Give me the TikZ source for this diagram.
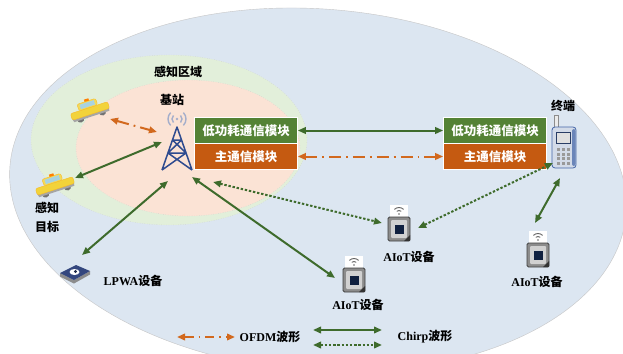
\documentclass[tikz,border=0pt]{standalone}
\usepackage{fontspec}
\setmainfont{Liberation Serif}
\newfontfamily\cjk{Noto Sans CJK SC}
\usepackage{tikz}
\usetikzlibrary{arrows.meta}
\definecolor{skyfill}{HTML}{DCE6F1}
\definecolor{zonefill}{HTML}{E2EFDA}
\definecolor{cellfill}{HTML}{FBE3D5}
\definecolor{lpgreen}{HTML}{548235}
\definecolor{mainorange}{HTML}{C55A11}
\definecolor{arrgreen}{HTML}{3E6B2C}
\definecolor{arrorange}{HTML}{D2691E}
\definecolor{towerblue}{HTML}{2E4B8F}
\definecolor{wavegray}{HTML}{A4AECB}
\definecolor{taxi}{HTML}{F2D33A}
\definecolor{glass}{HTML}{A9D3E0}
\definecolor{phonebody}{HTML}{D3DBE8}
\definecolor{phoneblue}{HTML}{4566A8}
\definecolor{chipnavy}{HTML}{10203F}
\definecolor{tilenavy}{HTML}{34477E}
\newcommand{\zh}[1]{{\cjk #1}}

\begin{document}
\begin{tikzpicture}[x=1pt, y=-1pt,
    lbl/.style={inner sep=0.5pt, font=\fontsize{12}{13}\selectfont\bfseries},
    modbox/.style={draw=white, line width=0.6pt, minimum width=103, minimum height=25.5, inner sep=0pt, text=white, font=\fontsize{12.5}{14}\selectfont\bfseries\cjk},
    wtip/.tip={Triangle[length=8pt, width=6.5pt]},
    chirp/.style={draw=arrgreen, line width=2pt, wtip-wtip},
    chirpdot/.style={chirp, dash pattern=on 2.4pt off 1.8pt},
    ofdm/.style={draw=arrorange, line width=2pt, dash pattern=on 12pt off 5pt on 1.8pt off 5pt, wtip-wtip}]
            \clip (0,0) rectangle (623,353);
            \fill[white] (0,0) rectangle (623,353);
            \draw[fill=skyfill, draw=gray!45, rotate around={-4.4:(318,190)}] (318,190) ellipse [x radius=309, y radius=181];
            \draw[fill=zonefill, draw=gray!40, dotted] (169,140) ellipse [x radius=138, y radius=85];
            \draw[fill=cellfill, draw=gray!40, dotted] (188,148) ellipse [x radius=112, y radius=68];

            \node[lbl] (zone) at (178,72) {\zh{感知区域}};
            \node[lbl] (bslbl) at (172,100) {\zh{基站}};
            \node[lbl] (termlbl) at (563,106) {\zh{终端}};
            \node[lbl, align=center] (tgtlbl) at (47,217) {\zh{感知}\\[6pt]\zh{目标}};
            \node[lbl] (lpwalbl) at (133,281) {LPWA\zh{设备}};
            \node[lbl] (iotAlbl) at (409,257) {AIoT\zh{设备}};
            \node[lbl] (iotBlbl) at (358,305) {AIoT\zh{设备}};
            \node[lbl] (iotClbl) at (537,282) {AIoT\zh{设备}};

            \node[modbox, fill=lpgreen] (lowA) at (246,130.5) {低功耗通信模块};
            \node[modbox, fill=mainorange] (mainA) at (246,156.5) {主通信模块};
            \node[modbox, fill=lpgreen] (lowB) at (495,130.5) {低功耗通信模块};
            \node[modbox, fill=mainorange] (mainB) at (495,156.5) {主通信模块};

            \draw[towerblue, line width=1.5pt, line join=round]
                (162,170) -- (177,127) -- (192,170)
                (172.5,140) -- (181.5,140)
                (168,153) -- (186,153)
                (172.5,140) -- (186,153) (181.5,140) -- (168,153)
                (168,153) -- (192,170) (186,153) -- (162,170);
            \foreach \r in {5,9} {
                \draw[wavegray, line width=1.4pt] (177,119) ++(135:\r) arc[start angle=135, end angle=225, radius=\r];
                \draw[wavegray, line width=1.4pt] (177,119) ++(-45:\r) arc[start angle=-45, end angle=45, radius=\r];
            }
            \fill[wavegray] (177,119) circle (1.4);

            \foreach \x\y in {90/111, 55/186} {
                \begin{scope}[shift={(\x,\y)}, rotate=18, scale=1.15]
                    \fill[black!55] (-10,4) circle (3.2) (10,4) circle (3.2);
                    \fill[black!35] (-17,1) -- (17,1) -- (16,5) -- (-16,5) -- cycle;
                    \draw[taxi!70!orange, fill=taxi, rounded corners=2] (-17,-3) rectangle (17,3);
                    \draw[taxi!70!orange, fill=taxi!85!white, rounded corners=2] (-9,-9) rectangle (8,-3);
                    \fill[glass] (-7,-8) rectangle (6,-4);
                    \fill[orange] (-2,-11) rectangle (2,-9);
                \end{scope}
            }

            \draw[black!45, fill=black!8] (554,115) rectangle (558,128);
            \draw[phoneblue, fill=phonebody, rounded corners=3, line width=0.8pt] (552,127) rectangle (576,168);
            \fill[phoneblue!80, rounded corners=2] (572,129) rectangle (575.5,166);
            \draw[phoneblue!60!black, fill=black!12] (556,132) rectangle (570,143);
            \foreach \i in {0,1,2} {
                \foreach \j in {0,...,3} {
                    \fill[black!40] (557+\i*4.8,148+\j*4.6) rectangle ++(3.4,3);
                }
            }

            \foreach \x\y in {399/229, 354/280, 538/255} {
                \fill[white] (\x-9,\y-24) rectangle (\x+9,\y-12);
                \draw[black!60, line width=0.9pt] (\x,\y-15) ++(230:3.5) arc[start angle=230, end angle=310, radius=3.5];
                \draw[black!60, line width=0.9pt] (\x,\y-15) ++(225:6.5) arc[start angle=225, end angle=315, radius=6.5];
                \fill[black!60] (\x,\y-15) circle (0.9);
                \draw[black!75, fill=black!45, rounded corners=1.5, line width=0.8pt] (\x-11,\y-12) rectangle (\x+11,\y+12);
                \fill[black!18, rounded corners=1] (\x-8,\y-9) rectangle (\x+8,\y+9);
                \fill[chipnavy] (\x-4.5,\y-4.5) rectangle (\x+4.5,\y+4.5);
                \fill[black!80] (\x+11,\y+6) -- (\x+11,\y+12) -- (\x+5,\y+12) -- cycle;
            }

            \fill[black!45] (60,273) -- (74,280) -- (90,271) -- (90,274.5) -- (74,283.5) -- (60,276.5) -- cycle;
            \fill[tilenavy] (60,273) -- (76,265) -- (90,271) -- (74,280) -- cycle;
            \fill[white] (74.5,272) ellipse [x radius=5, y radius=3];
            \fill[tilenavy!60!black] (75.5,271.5) circle (1.6);

            \coordinate (carA) at (110,119);
            \coordinate (bsA) at (157,132);
            \coordinate (carB) at (75,178);
            \coordinate (bsB) at (162,142);
            \coordinate (lpwa) at (82,255);
            \coordinate (bsC) at (168,181);
            \coordinate (bsD) at (192,177);
            \coordinate (iotB) at (335,278);
            \coordinate (bsE) at (213,182);
            \coordinate (iotA) at (382,223);
            \coordinate (iotAr) at (418,228);
            \coordinate (phA) at (553,163);
            \coordinate (phB) at (560,178);
            \coordinate (iotC) at (535,223);

            \draw[ofdm] (carA) -- (bsA);
            \draw[chirp] (carB) -- (bsB);
            \draw[chirp] (lpwa) -- (bsC);
            \draw[chirp] (bsD) -- (iotB);
            \draw[chirpdot] (bsE) -- (iotA);
            \draw[chirpdot] (iotAr) -- (phA);
            \draw[chirp] (phB) -- (iotC);
            \draw[chirp] (lowA.east) -- (lowB.west);
            \draw[ofdm] (mainA.east) -- (mainB.west);

            \coordinate (ofdmL) at (177,337);
            \coordinate (ofdmR) at (235,337);
            \coordinate (chL) at (313,330);
            \coordinate (chR) at (382,330);
            \coordinate (cdL) at (313,345);
            \coordinate (cdR) at (382,345);
            \draw[ofdm, dash pattern=on 9pt off 5pt on 1.8pt off 5pt] (ofdmL) -- (ofdmR);
            \draw[chirp] (chL) -- (chR);
            \draw[chirpdot] (cdL) -- (cdR);
            \node[lbl] (ofdmlbl) at (270,337) {OFDM\zh{波形}};
            \node[lbl] (chirplbl) at (425,337) {Chirp\zh{波形}};
        \end{tikzpicture}
\end{document}
